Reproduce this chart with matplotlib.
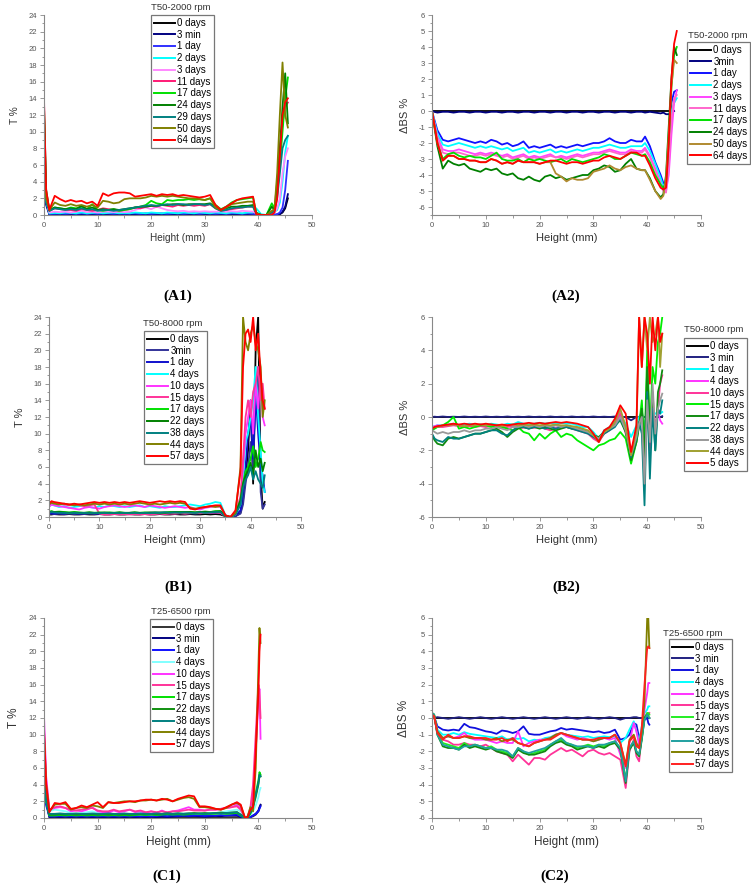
import matplotlib
matplotlib.use("Agg")
import matplotlib.pyplot as plt
import numpy as np

plt.rcParams['font.family'] = ['Liberation Sans', 'DejaVu Sans']
plt.rcParams['axes.unicode_minus'] = False

# ---------------- A1 : T %, T50-2000 rpm ----------------
a1_height = [0, 0.4, 1, 2, 3, 4, 5, 6, 7, 8,
             9, 10, 11, 12, 13, 14, 15, 16, 17, 18,
             19, 20, 21, 22, 23, 24, 25, 26, 27, 28,
             29, 30, 31, 32, 33, 34, 35, 36, 37, 38,
             39, 39.6, 40.5, 41.5, 42.5, 43, 43.5, 44, 44.5, 45,
             45.5]
a1_0d = [6.0, 1.5, 0.1, 0.1, 0.05, 0.1, 0.05, 0.1, 0.1, 0.05,
         0.1, 0.1, 0.05, 0.1, 0.1, 0.05, 0.1, 0.1, 0.05, 0.1,
         0.1, 0.05, 0.1, 0.1, 0.05, 0.1, 0.1, 0.05, 0.1, 0.1,
         0.05, 0.1, 0.1, 0.05, 0.1, 0.1, 0.05, 0.1, 0.1, 0.05,
         0.1, 0.05, 0.0, 0.0, 0.0, 0.0, 0.05, 0.1, 0.3, 0.8,
         2.0]
a1_3min = [5.5, 1.2, 0.05, 0.05, 0.1, 0.05, 0.05, 0.1, 0.05, 0.05,
           0.1, 0.05, 0.05, 0.1, 0.05, 0.05, 0.1, 0.05, 0.05, 0.1,
           0.05, 0.05, 0.1, 0.05, 0.05, 0.1, 0.05, 0.05, 0.1, 0.05,
           0.05, 0.1, 0.05, 0.05, 0.1, 0.05, 0.05, 0.1, 0.05, 0.05,
           0.1, 0.05, 0.0, 0.0, 0.0, 0.0, 0.05, 0.1, 0.4, 1.0,
           2.5]
a1_1d = [6.0, 1.5, 0.15, 0.15, 0.2, 0.15, 0.2, 0.15, 0.2, 0.15,
         0.2, 0.15, 0.2, 0.2, 0.15, 0.2, 0.15, 0.2, 0.2, 0.15,
         0.2, 0.15, 0.2, 0.2, 0.15, 0.2, 0.2, 0.15, 0.2, 0.2,
         0.15, 0.2, 0.2, 0.15, 0.2, 0.15, 0.2, 0.2, 0.15, 0.2,
         0.15, 0.1, 0.0, 0.0, 0.0, 0.05, 0.1, 0.3, 0.9, 3.0,
         6.5]
a1_2d = [6.0, 1.8, 0.2, 0.25, 0.2, 0.3, 0.25, 0.2, 0.3, 0.2,
         0.25, 0.3, 0.2, 0.25, 0.3, 0.2, 0.25, 0.2, 0.3, 0.25,
         0.2, 0.3, 0.25, 0.2, 0.3, 0.25, 0.2, 0.3, 0.25, 0.2,
         0.3, 0.25, 0.2, 0.3, 0.25, 0.2, 0.3, 0.25, 0.2, 0.3,
         0.3, 0.8, 0.1, 0.0, 0.2, 0.4, 0.6, 1.5, 4.0, 7.5,
         9.5]
a1_3d = [6.5, 2.0, 0.3, 0.4, 0.35, 0.4, 0.3, 0.4, 0.5, 0.35,
         0.4, 0.3, 0.4, 0.4, 0.35, 0.4, 0.35, 0.4, 0.6, 0.8,
         0.9, 0.7, 1.0, 0.8, 0.6, 0.5, 0.45, 0.5, 0.4, 0.45,
         0.4, 0.45, 0.4, 0.4, 0.45, 0.4, 0.45, 0.4, 0.5, 0.45,
         0.4, 0.2, 0.0, 0.0, 0.1, 0.3, 0.8, 2.0, 5.0, 7.0,
         8.0]
a1_11d = [14.0, 3.0, 0.5, 0.8, 0.7, 0.6, 0.6, 0.5, 0.7, 0.6,
          0.5, 0.6, 0.8, 0.7, 0.6, 0.5, 0.6, 0.7, 0.9, 0.8,
          1.0, 1.1, 1.0, 1.2, 1.1, 1.0, 1.2, 1.1, 1.2, 1.1,
          1.2, 1.1, 1.3, 0.8, 0.5, 0.6, 0.7, 0.8, 0.9, 1.0,
          1.0, 0.2, 0.0, 0.0, 0.2, 0.8, 4.0, 8.0, 11.0, 13.0,
          13.5]
a1_17d = [13.0, 3.0, 0.5, 0.9, 0.8, 0.7, 0.9, 0.8, 1.0, 0.7,
          1.3, 0.6, 0.5, 0.6, 0.7, 0.5, 0.6, 0.7, 0.9, 1.0,
          1.2, 1.7, 1.4, 1.3, 1.8, 1.7, 1.8, 1.8, 1.9, 1.8,
          1.9, 1.8, 2.0, 1.2, 0.7, 1.0, 1.5, 1.8, 1.9, 2.0,
          2.1, 0.3, 0.0, 0.0, 1.4, 0.8, 2.5, 6.0, 10.0, 14.0,
          16.5]
a1_24d = [12.0, 2.5, 0.6, 0.9, 0.8, 0.7, 0.8, 0.7, 1.1, 0.7,
          0.9, 0.6, 0.7, 0.6, 0.7, 0.6, 0.7, 0.8, 0.9, 1.0,
          1.0, 1.1, 1.1, 1.2, 1.2, 1.3, 1.3, 1.2, 1.3, 1.3,
          1.3, 1.3, 1.4, 0.9, 0.6, 0.8, 1.0, 1.0, 1.1, 1.1,
          1.2, 0.2, 0.0, 0.0, 1.0, 0.6, 3.0, 8.0, 13.0, 17.0,
          11.0]
a1_29d = [6.0, 1.5, 0.5, 0.8, 0.7, 0.6, 0.7, 0.6, 0.8, 0.6,
          0.7, 0.5, 0.6, 0.6, 0.5, 0.6, 0.7, 0.8, 0.9, 1.0,
          1.1, 1.2, 1.1, 1.2, 1.3, 1.2, 1.3, 1.3, 1.2, 1.3,
          1.3, 1.2, 1.3, 0.8, 0.5, 0.6, 0.8, 0.9, 0.9, 1.0,
          1.0, 0.2, 0.0, 0.0, 0.3, 0.5, 2.0, 5.0, 8.0, 9.0,
          9.5]
a1_50d = [6.0, 2.0, 0.6, 1.5, 1.2, 1.1, 1.3, 1.1, 1.2, 1.0,
          1.2, 0.9, 1.7, 1.6, 1.4, 1.5, 1.9, 2.0, 2.0, 2.0,
          2.1, 2.3, 2.2, 2.3, 2.2, 2.3, 2.2, 2.1, 2.0, 2.0,
          1.9, 1.8, 2.0, 0.9, 0.6, 0.9, 1.3, 1.4, 1.5, 1.6,
          1.6, 0.2, 0.0, 0.0, 0.5, 0.7, 5.0, 12.0, 18.3, 12.0,
          10.5]
a1_64d = [13.5, 3.0, 0.6, 2.3, 1.9, 1.6, 1.8, 1.6, 1.7, 1.4,
          1.6, 1.1, 2.6, 2.3, 2.6, 2.7, 2.7, 2.6, 2.2, 2.3,
          2.4, 2.5, 2.3, 2.5, 2.4, 2.5, 2.3, 2.4, 2.3, 2.2,
          2.1, 2.2, 2.4, 1.2, 0.6, 1.0, 1.4, 1.8, 2.0, 2.1,
          2.2, 0.1, 0.0, 0.0, 0.0, 0.3, 2.0, 7.0, 12.0, 13.5,
          14.0]
a1_labels = ["0 days", "3 min", "1 day", "2 days", "3 days", "11 days",
             "17 days", "24 days", "29 days", "50 days", "64 days"]
a1_series = [a1_0d, a1_3min, a1_1d, a1_2d, a1_3d, a1_11d,
             a1_17d, a1_24d, a1_29d, a1_50d, a1_64d]

# ---------------- A2 : dBS %, T50-2000 rpm ----------------
a2_0d = [0.0, 0.0, 0.0, 0.0, 0.0, 0.0, 0.0, 0.0, 0.0, 0.0,
         0.0, 0.0, 0.0, 0.0, 0.0, 0.0, 0.0, 0.0, 0.0, 0.0,
         0.0, 0.0, 0.0, 0.0, 0.0, 0.0, 0.0, 0.0, 0.0, 0.0,
         0.0, 0.0, 0.0, 0.0, 0.0, 0.0, 0.0, 0.0, 0.0, 0.0,
         0.0, 0.0, 0.0, 0.0, 0.0, 0.0, 0.0, 0.0, 0.0, 0.0,
         np.nan]
a2_3min = [0.0, -0.05, -0.1, -0.05, -0.05, -0.1, -0.05, -0.05, -0.1, -0.05,
           -0.05, -0.1, -0.05, -0.05, -0.1, -0.05, -0.05, -0.1, -0.05, -0.05,
           -0.1, -0.05, -0.05, -0.1, -0.05, -0.05, -0.1, -0.05, -0.05, -0.1,
           -0.05, -0.05, -0.1, -0.05, -0.05, -0.1, -0.05, -0.05, -0.1, -0.05,
           -0.05, -0.1, -0.05, -0.1, -0.15, -0.1, -0.2, -0.2, -0.1, 0.0,
           np.nan]
a2_1d = [0.0, -0.5, -1.2, -1.8, -1.9, -1.8, -1.7, -1.8, -1.9, -2.0,
         -1.9, -2.0, -1.8, -1.9, -2.1, -2.0, -2.2, -2.1, -1.9, -2.3,
         -2.2, -2.3, -2.2, -2.1, -2.3, -2.2, -2.3, -2.2, -2.1, -2.2,
         -2.1, -2.0, -2.0, -1.9, -1.7, -1.9, -2.0, -2.0, -1.8, -1.9,
         -1.9, -1.6, -2.2, -3.2, -4.0, -4.5, -4.6, -2.5, 0.5, 1.2,
         1.3]
a2_2d = [0.0, -0.6, -1.4, -2.1, -2.2, -2.1, -2.0, -2.1, -2.2, -2.3,
         -2.2, -2.3, -2.2, -2.3, -2.4, -2.3, -2.5, -2.4, -2.3, -2.6,
         -2.5, -2.6, -2.5, -2.4, -2.6, -2.5, -2.6, -2.5, -2.4, -2.5,
         -2.4, -2.3, -2.3, -2.2, -2.1, -2.2, -2.3, -2.3, -2.2, -2.2,
         -2.2, -2.0, -2.5, -3.3, -4.2, -4.7, -4.8, -2.8, 0.0, 0.5,
         0.8]
a2_3d = [0.0, -0.7, -1.6, -2.4, -2.5, -2.5, -2.4, -2.5, -2.6, -2.7,
         -2.6, -2.7, -2.6, -2.7, -2.8, -2.7, -2.9, -2.8, -2.7, -2.9,
         -2.8, -2.9, -2.8, -2.7, -2.9, -2.8, -2.9, -2.8, -2.7, -2.8,
         -2.7, -2.6, -2.6, -2.5, -2.4, -2.5, -2.6, -2.6, -2.4, -2.5,
         -2.5, -2.3, -2.8, -3.6, -4.5, -4.9, -5.0, -4.0, -1.5, 0.5,
         1.3]
a2_11d = [0.0, -0.7, -1.7, -2.6, -2.7, -2.6, -2.6, -2.7, -2.8, -2.8,
          -2.7, -2.8, -2.7, -2.8, -2.9, -2.8, -3.0, -2.9, -2.8, -3.0,
          -2.9, -3.0, -2.9, -2.8, -2.9, -2.9, -3.0, -2.9, -2.8, -2.9,
          -2.8, -2.7, -2.7, -2.6, -2.5, -2.6, -2.7, -2.7, -2.5, -2.6,
          -2.6, -2.4, -2.9, -3.7, -4.6, -5.0, -5.1, -3.5, -0.5, 0.8,
          1.0]
a2_17d = [0.0, -0.8, -2.0, -3.0, -2.7, -2.6, -2.8, -2.9, -2.8, -2.9,
          -2.9, -3.0, -2.8, -2.6, -3.0, -3.1, -3.1, -3.0, -3.2, -3.0,
          -3.1, -3.0, -3.1, -3.2, -3.1, -3.0, -3.2, -3.0, -3.1, -3.2,
          -3.1, -3.0, -2.9, -2.7, -2.8, -3.0, -3.0, -2.8, -2.6, -2.7,
          -2.8, -2.7, -3.2, -4.0, -4.6, -4.8, -4.6, -2.0, 1.5, 3.5,
          4.0]
a2_24d = [0.0, -0.9, -2.2, -3.6, -3.1, -3.3, -3.4, -3.3, -3.6, -3.7,
          -3.8, -3.6, -3.7, -3.6, -3.9, -4.0, -3.9, -4.2, -4.3, -4.1,
          -4.3, -4.4, -4.1, -4.0, -4.2, -4.1, -4.3, -4.2, -4.1, -4.0,
          -4.0, -3.7, -3.6, -3.4, -3.5, -3.8, -3.7, -3.3, -3.0, -3.6,
          -3.7, -3.7, -4.2, -5.0, -5.4, -5.2, -4.0, -1.0, 2.0, 4.0,
          3.5]
a2_50d = [0.0, -0.8, -2.0, -3.1, -2.8, -2.8, -3.0, -3.0, -3.1, -3.1,
          -3.2, -3.2, -3.0, -3.1, -3.3, -3.2, -3.3, -3.1, -3.2, -3.2,
          -3.2, -3.3, -3.2, -3.2, -3.9, -4.1, -4.4, -4.2, -4.3, -4.3,
          -4.2, -3.8, -3.7, -3.6, -3.4, -3.6, -3.7, -3.5, -3.4, -3.6,
          -3.7, -3.7, -4.3, -5.0, -5.5, -5.3, -4.2, -1.5, 1.5, 3.2,
          3.0]
a2_64d = [0.0, -0.8, -2.0, -3.1, -2.8, -2.8, -3.0, -3.0, -3.1, -3.1,
          -3.2, -3.2, -3.0, -3.1, -3.3, -3.2, -3.3, -3.1, -3.2, -3.2,
          -3.2, -3.3, -3.2, -3.1, -3.1, -3.2, -3.3, -3.2, -3.2, -3.3,
          -3.2, -3.1, -3.1, -2.9, -2.8, -2.9, -3.0, -2.8, -2.6, -2.6,
          -2.8, -2.8, -3.4, -4.2, -4.8, -4.9, -4.8, -2.0, 2.0, 4.2,
          5.0]
a2_labels = ["0 days", "3min", "1 day", "2 days", "3 days", "11 days",
             "17 days", "24 days", "50 days", "64 days"]
a2_series = [a2_0d, a2_3min, a2_1d, a2_2d, a2_3d, a2_11d,
             a2_17d, a2_24d, a2_50d, a2_64d]

# ---------------- B1 : T %, T50-8000 rpm ----------------
b1_height = [0, 0.5, 1, 2, 3, 4, 5, 6, 7, 8,
             9, 10, 11, 12, 13, 14, 15, 16, 17, 18,
             19, 20, 21, 22, 23, 24, 25, 26, 27, 28,
             29, 30, 31, 32, 33, 34, 35, 36, 37, 38,
             38.5, 39, 39.5, 40, 40.5, 41, 41.5, 42, 42.4, 42.8]
b1_0d = [0.3, 0.3, 0.35, 0.3, 0.3, 0.35, 0.3, 0.3, 0.35, 0.3,
         0.3, 0.35, 0.3, 0.3, 0.35, 0.3, 0.3, 0.35, 0.3, 0.3,
         0.35, 0.3, 0.3, 0.35, 0.3, 0.3, 0.35, 0.3, 0.3, 0.35,
         0.3, 0.3, 0.35, 0.3, 0.35, 0.3, 0.1, 0.0, 0.1, 0.5,
         2.0, 5.0, 8.0, 14.0, 4.0, 20.0, 24.0, 5.0, 1.0, 1.8]
b1_3min = [0.35, 0.4, 0.35, 0.4, 0.35, 0.4, 0.35, 0.4, 0.35, 0.4,
           0.35, 0.4, 0.35, 0.4, 0.35, 0.4, 0.35, 0.4, 0.35, 0.4,
           0.35, 0.4, 0.4, 0.45, 0.4, 0.45, 0.4, 0.45, 0.4, 0.45,
           0.4, 0.45, 0.5, 0.45, 0.5, 0.5, 0.1, 0.0, 0.1, 0.4,
           1.5, 4.0, 6.0, 9.0, 6.0, 14.0, 18.0, 3.0, 1.0, 1.5]
b1_1d = [0.4, 0.45, 0.4, 0.45, 0.4, 0.5, 0.45, 0.4, 0.45, 0.5,
         0.45, 0.4, 0.45, 0.5, 0.45, 0.5, 0.45, 0.5, 0.5, 0.45,
         0.5, 0.5, 0.55, 0.5, 0.55, 0.5, 0.55, 0.6, 0.55, 0.5,
         0.5, 0.55, 0.6, 0.55, 0.6, 0.6, 0.1, 0.0, 0.2, 0.8,
         3.0, 6.0, 10.0, 12.0, 7.0, 15.0, 10.0, 6.0, 5.0, 3.0]
b1_4d = [1.3, 1.5, 1.4, 1.2, 1.3, 1.1, 1.2, 1.3, 1.4, 1.2,
         1.1, 1.3, 1.2, 1.4, 1.3, 1.2, 1.3, 1.2, 1.3, 1.4,
         1.2, 1.3, 1.2, 1.1, 1.3, 1.2, 1.2, 1.3, 1.4, 1.5,
         1.4, 1.3, 1.5, 1.6, 1.8, 1.7, 0.2, 0.0, 0.3, 1.5,
         5.0, 9.0, 10.0, 12.0, 14.0, 18.0, 12.0, 8.0, 4.0, 3.0]
b1_10d = [1.2, 1.5, 1.4, 1.3, 1.2, 1.1, 1.0, 0.9, 1.1, 1.2,
          1.1, 1.0, 1.2, 1.3, 1.4, 1.3, 1.2, 1.3, 1.4, 1.3,
          1.2, 1.4, 1.3, 1.2, 1.1, 1.2, 1.3, 1.2, 1.1, 1.2,
          1.0, 0.9, 1.1, 1.2, 1.3, 1.2, 0.2, 0.0, 0.4, 2.0,
          6.0, 10.0, 12.0, 14.0, 10.0, 16.0, 13.0, 17.0, 12.0, 11.0]
b1_15d = [1.6, 1.8, 1.7, 1.6, 1.5, 1.4, 1.5, 1.4, 1.3, 1.4,
          1.5, 0.4, 0.3, 0.3, 0.35, 0.3, 0.35, 0.3, 0.35, 0.3,
          0.35, 0.3, 0.35, 0.4, 0.35, 0.4, 0.4, 0.45, 0.4, 0.45,
          0.5, 0.45, 0.5, 0.5, 0.55, 0.5, 0.1, 0.0, 0.3, 2.5,
          7.0, 12.0, 14.0, 12.0, 15.0, 16.0, 18.0, 14.0, 16.0, 13.0]
b1_17d = [0.6, 0.7, 0.6, 0.65, 0.6, 0.55, 0.6, 0.55, 0.5, 0.55,
          0.5, 0.55, 0.5, 0.55, 0.5, 0.55, 0.5, 0.5, 0.55, 0.5,
          0.55, 0.5, 0.55, 0.5, 0.55, 0.6, 0.55, 0.6, 0.55, 0.6,
          0.55, 0.6, 0.55, 0.6, 0.7, 0.7, 0.1, 0.0, 0.4, 2.0,
          4.0, 5.5, 6.0, 7.0, 8.5, 6.0, 7.0, 9.0, 8.0, 7.8]
b1_22d = [0.6, 0.65, 0.6, 0.6, 0.55, 0.5, 0.55, 0.5, 0.5, 0.55,
          0.5, 0.5, 0.55, 0.5, 0.5, 0.55, 0.5, 0.5, 0.55, 0.5,
          0.5, 0.55, 0.5, 0.55, 0.5, 0.55, 0.6, 0.55, 0.6, 0.6,
          0.55, 0.6, 0.65, 0.6, 0.65, 0.7, 0.1, 0.0, 0.4, 2.0,
          4.0, 5.0, 5.5, 6.5, 5.0, 8.0, 6.0, 7.0, 5.5, 6.5]
b1_38d = [0.5, 0.6, 0.55, 0.5, 0.5, 0.45, 0.5, 0.45, 0.5, 0.45,
          0.5, 0.45, 0.5, 0.45, 0.5, 0.45, 0.5, 0.45, 0.5, 0.45,
          0.5, 0.45, 0.5, 0.5, 0.55, 0.5, 0.55, 0.5, 0.55, 0.5,
          0.5, 0.55, 0.5, 0.55, 0.6, 0.6, 0.1, 0.0, 0.3, 1.5,
          3.5, 4.5, 5.0, 6.0, 4.5, 5.5, 4.5, 4.0, 3.5, 5.0]
b1_44d = [1.5, 1.7, 1.6, 1.5, 1.6, 1.5, 1.4, 1.5, 1.4, 1.5,
          1.6, 1.5, 1.6, 1.5, 1.6, 1.5, 1.6, 1.5, 1.6, 1.7,
          1.6, 1.5, 1.6, 1.5, 1.6, 1.7, 1.6, 1.7, 1.6, 1.1,
          1.0, 1.1, 1.2, 1.3, 1.2, 1.3, 0.2, 0.0, 0.5, 6.0,
          24.0, 21.0, 20.0, 22.0, 23.0, 21.0, 20.0, 18.0, 12.0, 14.0]
b1_57d = [1.6, 1.9, 1.8, 1.7, 1.6, 1.5, 1.6, 1.5, 1.6, 1.7,
          1.8, 1.7, 1.8, 1.7, 1.8, 1.7, 1.8, 1.7, 1.8, 1.9,
          1.8, 1.7, 1.8, 1.9, 1.8, 1.9, 1.8, 1.9, 1.8, 1.0,
          0.9, 1.1, 1.2, 1.3, 1.4, 1.4, 0.2, 0.0, 0.8, 5.5,
          18.0, 22.0, 22.5, 21.0, 24.0, 20.0, 22.0, 17.0, 14.0, 13.0]
b1_labels = ["0 days", "3min", "1 day", "4 days", "10 days", "15 days",
             "17 days", "22 days", "38 days", "44 days", "57 days"]
b1_series = [b1_0d, b1_3min, b1_1d, b1_4d, b1_10d, b1_15d,
             b1_17d, b1_22d, b1_38d, b1_44d, b1_57d]

# ---------------- B2 : dBS %, T50-8000 rpm ----------------
b2_0d = [0.0, 0.0, 0.0, 0.0, 0.0, 0.0, 0.0, 0.0, 0.0, 0.0,
         0.0, 0.0, 0.0, 0.0, 0.0, 0.0, 0.0, 0.0, 0.0, 0.0,
         0.0, 0.0, 0.0, 0.0, 0.0, 0.0, 0.0, 0.0, 0.0, 0.0,
         0.0, 0.0, 0.0, 0.0, 0.0, 0.0, 0.0, 0.0, 0.0, 0.0,
         0.0, 0.0, 0.0, 0.0, 0.0, 0.0, 0.0, 0.0, 0.0, 0.0]
b2_3min = [0.0, 0.02, 0.0, 0.03, 0.0, 0.02, 0.0, 0.03, 0.0, 0.02,
           0.0, 0.03, 0.0, 0.02, 0.0, 0.03, 0.0, 0.02, 0.0, 0.03,
           0.0, 0.02, 0.0, 0.03, 0.0, 0.02, 0.0, 0.03, 0.0, 0.02,
           0.0, 0.03, 0.0, 0.02, 0.0, 0.03, 0.0, 0.0, -0.2, 0.0,
           0.0, 0.05, 0.0, 0.05, 0.0, 0.05, 0.0, 0.05, 0.0, 0.05]
b2_1d = [-0.6, -0.55, -0.5, -0.5, -0.45, -0.4, -0.5, -0.45, -0.4, -0.5,
         -0.45, -0.5, -0.4, -0.45, -0.5, -0.4, -0.45, -0.3, -0.4, -0.45,
         -0.4, -0.35, -0.4, -0.35, -0.4, -0.35, -0.4, -0.4, -0.5, -0.6,
         -0.6, -0.9, -1.3, -0.8, -0.6, -0.3, 0.1, -0.4, -1.2, -0.5,
         0.0, 0.3, -0.5, 0.2, 0.5, 0.1, 0.2, 0.3, 0.2, 0.3]
b2_4d = [-0.6, -0.55, -0.5, -0.55, -0.5, -0.45, -0.5, -0.55, -0.5, -0.55,
         -0.5, -0.55, -0.5, -0.6, -0.55, -0.5, -0.6, -0.5, -0.55, -0.6,
         -0.55, -0.6, -0.55, -0.6, -0.65, -0.6, -0.55, -0.6, -0.65, -0.8,
         -0.9, -1.2, -1.4, -0.9, -0.7, -0.4, 0.3, -0.8, -2.0, -1.0,
         -0.4, 0.5, -2.0, 1.8, -1.0, 0.5, -0.5, 0.3, -0.2, -0.4]
b2_10d = [-0.7, -0.65, -0.6, -0.6, -0.55, -0.5, -0.55, -0.6, -0.55, -0.6,
          -0.55, -0.6, -0.55, -0.6, -0.65, -0.6, -0.55, -0.6, -0.65, -0.6,
          -0.65, -0.6, -0.7, -0.8, -0.7, -0.65, -0.6, -0.7, -0.8, -0.9,
          -1.0, -1.3, -1.5, -1.0, -0.8, -0.5, 0.2, -1.0, -2.2, -1.2,
          -0.5, 0.5, -1.5, 1.0, -2.0, 1.5, -1.0, 0.5, 2.0, 2.5]
b2_15d = [-0.8, -0.7, -0.6, -0.5, -0.3, 0.0, -0.7, -0.6, -0.7, -0.6,
          -0.5, -0.5, -0.6, -0.5, -0.6, -0.7, -0.8, -0.6, -0.9, -1.0,
          -1.4, -1.0, -1.3, -1.0, -0.8, -1.2, -1.0, -1.1, -1.4, -1.6,
          -1.8, -2.0, -1.7, -1.6, -1.4, -1.3, -0.9, -1.3, -2.8, -1.5,
          -0.5, 1.0, -2.0, 4.0, -1.0, 3.0, 2.0, 4.5, 5.0, 6.0]
b2_17d = [-1.1, -1.4, -1.6, -1.7, -1.3, -1.2, -1.3, -1.2, -1.1, -1.0,
          -1.0, -0.9, -0.8, -0.7, -0.9, -1.2, -0.9, -0.7, -0.6, -0.7,
          -0.6, -0.7, -0.6, -0.7, -0.8, -0.7, -0.6, -0.7, -0.7, -0.8,
          -0.9, -1.1, -1.2, -0.9, -0.7, -0.5, -0.2, -0.9, -2.6, -1.5,
          -0.5, 0.5, -2.5, 3.0, -1.0, 1.0, -2.0, 1.5, 2.0, 2.8]
b2_22d = [-1.0, -1.3, -1.4, -1.5, -1.2, -1.3, -1.3, -1.2, -1.1, -1.0,
          -1.0, -0.9, -0.8, -0.8, -1.0, -1.1, -0.8, -0.6, -0.6, -0.7,
          -0.6, -0.6, -0.7, -0.6, -0.7, -0.6, -0.6, -0.7, -0.8, -0.9,
          -1.0, -1.2, -1.4, -1.0, -0.8, -0.6, -0.1, -0.8, -2.4, -1.3,
          -0.3, -1.0, -5.3, 1.5, -3.7, 0.5, -2.0, 0.5, 0.2, 1.0]
b2_38d = [-0.8, -0.9, -1.0, -0.9, -1.0, -0.9, -0.9, -0.8, -0.9, -0.8,
          -0.8, -0.7, -0.7, -0.6, -0.7, -0.8, -0.6, -0.6, -0.5, -0.6,
          -0.5, -0.6, -0.5, -0.6, -0.5, -0.6, -0.5, -0.6, -0.7, -0.8,
          -0.9, -1.1, -1.3, -0.9, -0.7, -0.5, 0.0, -0.8, -2.3, -1.2,
          -0.4, 0.0, -4.0, 1.0, -1.5, 2.0, -1.0, 0.5, 1.0, 1.4]
b2_44d = [-0.7, -0.6, -0.6, -0.5, -0.5, -0.45, -0.5, -0.55, -0.5, -0.5,
          -0.45, -0.5, -0.45, -0.5, -0.55, -0.5, -0.45, -0.5, -0.45, -0.5,
          -0.45, -0.5, -0.45, -0.5, -0.45, -0.5, -0.5, -0.55, -0.6, -0.7,
          -0.8, -1.1, -1.5, -0.9, -0.7, -0.3, 0.5, -0.6, -2.3, -0.8,
          6.0, 3.0, 6.0, 4.0, 6.0, 4.5, 5.0, 6.0, 3.0, 5.0]
b2_5d = [-0.7, -0.6, -0.55, -0.5, -0.45, -0.4, -0.45, -0.4, -0.45, -0.4,
         -0.45, -0.4, -0.45, -0.5, -0.45, -0.5, -0.45, -0.4, -0.4, -0.35,
         -0.4, -0.35, -0.4, -0.35, -0.3, -0.35, -0.3, -0.35, -0.4, -0.5,
         -0.6, -1.0, -1.5, -0.8, -0.6, -0.1, 0.7, 0.2, -2.1, -0.5,
         6.0, 3.0, 6.0, 5.0, 2.0, 6.0, 4.0, 6.0, 4.5, 5.0]
b2_labels = ["0 days", "3 min", "1 day", "4 days", "10 days", "15 days",
             "17 days", "22 days", "38 days", "44 days", "5 days"]
b2_series = [b2_0d, b2_3min, b2_1d, b2_4d, b2_10d, b2_15d,
             b2_17d, b2_22d, b2_38d, b2_44d, b2_5d]

# ---------------- C1 : T %, T25-6500 rpm ----------------
c1_height = [0, 0.4, 1, 2, 3, 4, 5, 6, 7, 8,
             9, 10, 11, 12, 13, 14, 15, 16, 17, 18,
             19, 20, 21, 22, 23, 24, 25, 26, 27, 28,
             29, 30, 31, 32, 33, 34, 35, 36, 36.7, 37.5,
             38, 38.5, 39, 39.5, 40, 40.2, 40.4]
c1_0d = [4.5, 2.0, 0.1, 0.1, 0.05, 0.1, 0.05, 0.1, 0.05, 0.1,
         0.05, 0.1, 0.05, 0.1, 0.05, 0.1, 0.05, 0.1, 0.05, 0.1,
         0.05, 0.1, 0.05, 0.1, 0.05, 0.1, 0.05, 0.1, 0.05, 0.1,
         0.05, 0.1, 0.05, 0.1, 0.05, 0.1, 0.1, 0.1, 0.05, 0.0,
         0.0, 0.1, 0.2, 0.4, 0.8, 1.2, 1.5]
c1_3min = [4.3, 2.0, 0.1, 0.15, 0.1, 0.15, 0.1, 0.15, 0.1, 0.15,
           0.1, 0.15, 0.1, 0.15, 0.1, 0.15, 0.1, 0.15, 0.1, 0.15,
           0.1, 0.15, 0.1, 0.15, 0.1, 0.15, 0.2, 0.25, 0.2, 0.25,
           0.2, 0.15, 0.2, 0.25, 0.2, 0.3, 0.3, 0.3, 0.1, 0.0,
           0.0, 0.1, 0.3, 0.5, 0.9, 1.3, 1.6]
c1_1d = [3.5, 1.5, 0.2, 0.2, 0.25, 0.2, 0.25, 0.2, 0.25, 0.2,
         0.25, 0.2, 0.25, 0.2, 0.25, 0.2, 0.25, 0.2, 0.25, 0.2,
         0.25, 0.2, 0.25, 0.3, 0.25, 0.3, 0.25, 0.3, 0.25, 0.3,
         0.3, 0.25, 0.3, 0.3, 0.35, 0.3, 0.35, 0.4, 0.2, 0.0,
         0.0, 0.1, 0.3, 0.5, 0.8, 1.1, 1.4]
c1_4d = [4.0, 2.0, 0.8, 1.0, 0.9, 0.8, 0.6, 0.5, 0.6, 0.7,
         0.8, 0.6, 0.5, 0.45, 0.5, 0.4, 0.45, 0.5, 0.45, 0.5,
         0.45, 0.5, 0.45, 0.5, 0.45, 0.5, 0.5, 0.55, 0.5, 0.55,
         0.5, 0.55, 0.6, 0.6, 0.7, 0.8, 0.9, 1.0, 0.8, 0.0,
         0.1, 0.4, 0.8, 1.5, 2.5, 3.2, 3.6]
c1_10d = [12.3, 5.0, 1.0, 1.2, 1.3, 1.2, 0.8, 0.9, 0.8, 1.0,
          1.3, 0.8, 0.7, 0.6, 0.9, 0.7, 0.8, 1.0, 0.7, 0.8,
          0.6, 0.8, 0.6, 0.9, 0.6, 0.8, 0.9, 1.1, 1.3, 1.0,
          1.0, 0.9, 1.0, 1.0, 1.1, 1.2, 1.3, 1.6, 1.2, 0.0,
          0.2, 1.0, 3.0, 8.0, 14.0, 15.5, 9.5]
c1_15d = [11.0, 4.5, 1.0, 1.3, 1.4, 1.2, 1.0, 0.9, 1.0, 1.1,
          1.2, 0.9, 0.8, 0.8, 1.0, 0.8, 0.9, 1.0, 0.8, 0.9,
          0.7, 0.8, 0.7, 0.8, 0.7, 0.8, 0.8, 0.9, 1.0, 0.9,
          0.9, 0.9, 1.0, 1.0, 1.1, 1.2, 1.3, 1.4, 1.0, 0.0,
          0.2, 1.2, 4.0, 10.0, 16.0, 15.0, 12.0]
c1_17d = [4.0, 2.0, 0.3, 0.3, 0.35, 0.3, 0.35, 0.3, 0.35, 0.3,
          0.35, 0.3, 0.35, 0.3, 0.35, 0.3, 0.35, 0.3, 0.35, 0.4,
          0.35, 0.4, 0.35, 0.4, 0.45, 0.4, 0.45, 0.4, 0.45, 0.5,
          0.5, 0.45, 0.5, 0.5, 0.55, 0.5, 0.55, 0.6, 0.3, 0.0,
          0.0, 0.5, 1.5, 3.0, 4.5, 5.5, 5.2]
c1_22d = [4.5, 2.2, 0.4, 0.4, 0.45, 0.4, 0.45, 0.4, 0.45, 0.4,
          0.45, 0.4, 0.45, 0.4, 0.45, 0.4, 0.45, 0.4, 0.45, 0.5,
          0.45, 0.5, 0.45, 0.5, 0.55, 0.5, 0.55, 0.5, 0.55, 0.6,
          0.55, 0.6, 0.55, 0.6, 0.65, 0.6, 0.65, 0.7, 0.4, 0.0,
          0.1, 0.6, 1.3, 2.5, 4.0, 5.0, 5.0]
c1_38d = [4.3, 2.1, 0.5, 0.5, 0.55, 0.5, 0.5, 0.55, 0.5, 0.5,
          0.55, 0.5, 0.5, 0.55, 0.5, 0.5, 0.55, 0.5, 0.5, 0.55,
          0.5, 0.5, 0.55, 0.5, 0.55, 0.5, 0.55, 0.5, 0.55, 0.5,
          0.55, 0.5, 0.55, 0.6, 0.55, 0.6, 0.65, 0.7, 0.4, 0.0,
          0.1, 0.7, 1.4, 2.8, 4.2, 5.2, 5.0]
c1_44d = [10.0, 4.0, 0.8, 1.6, 1.7, 1.7, 1.0, 1.2, 1.3, 1.2,
          1.5, 1.4, 1.2, 1.9, 1.8, 1.9, 2.0, 2.0, 1.9, 2.1,
          2.1, 2.2, 2.1, 2.2, 2.3, 2.0, 2.2, 2.4, 2.5, 2.3,
          1.3, 1.3, 1.2, 1.1, 1.0, 1.2, 1.6, 1.8, 1.5, 0.0,
          0.2, 1.3, 0.8, 6.0, 18.0, 22.8, 21.0]
c1_57d = [10.5, 4.0, 0.7, 1.8, 1.7, 1.9, 1.1, 1.2, 1.5, 1.3,
          1.6, 1.9, 1.3, 1.9, 1.8, 1.8, 1.9, 2.0, 2.0, 2.1,
          2.2, 2.2, 2.1, 2.3, 2.2, 2.0, 2.3, 2.5, 2.7, 2.6,
          1.4, 1.4, 1.3, 1.1, 1.0, 1.3, 1.6, 1.9, 1.6, 0.0,
          0.1, 1.0, 1.3, 8.0, 15.0, 20.0, 22.0]
c1_labels = ["0 days", "3 min", "1 day", "4 days", "10 days", "15 days",
             "17 days", "22 days", "38 days", "44 days", "57 days"]
c1_series = [c1_0d, c1_3min, c1_1d, c1_4d, c1_10d, c1_15d,
             c1_17d, c1_22d, c1_38d, c1_44d, c1_57d]

# ---------------- C2 : dBS %, T25-6500 rpm ----------------
c2_0d = [0.0, 0.0, 0.0, 0.0, 0.0, 0.0, 0.0, 0.0, 0.0, 0.0,
         0.0, 0.0, 0.0, 0.0, 0.0, 0.0, 0.0, 0.0, 0.0, 0.0,
         0.0, 0.0, 0.0, 0.0, 0.0, 0.0, 0.0, 0.0, 0.0, 0.0,
         0.0, 0.0, 0.0, 0.0, 0.0, 0.0, 0.0, 0.0, 0.0, 0.0,
         0.0, 0.0, 0.0, 0.0, 0.0, 0.0, 0.0]
c2_3min = [0.0, 0.0, 0.05, 0.0, -0.05, 0.0, 0.05, 0.0, -0.05, 0.0,
           0.05, 0.0, -0.05, 0.0, 0.05, 0.0, -0.05, 0.0, 0.05, 0.0,
           -0.05, 0.0, 0.05, 0.0, -0.05, 0.0, 0.05, 0.0, -0.05, 0.0,
           0.05, 0.0, -0.05, 0.0, 0.05, 0.0, -0.1, 0.0, 0.0, 0.05,
           0.05, 0.0, 0.0, 0.0, 0.0, 0.0, 0.0]
c2_1d = [0.2, 0.1, -0.5, -0.7, -0.75, -0.7, -0.75, -0.35, -0.55, -0.6,
         -0.7, -0.8, -0.85, -0.95, -0.75, -0.8, -0.9, -0.8, -0.5, -0.95,
         -1.0, -1.0, -0.9, -0.8, -0.75, -0.6, -0.7, -0.65, -0.7, -0.75,
         -0.8, -0.85, -0.8, -0.9, -0.85, -0.7, -1.3, -1.2, -1.0, -0.3,
         -0.4, -1.2, -0.8, -0.1, 0.0, -0.3, -0.4]
c2_4d = [0.2, 0.1, -0.7, -1.0, -1.0, -0.9, -1.0, -0.85, -0.95, -1.0,
         -1.05, -1.1, -1.15, -1.2, -1.1, -1.3, -1.2, -1.25, -1.2, -1.4,
         -1.3, -1.35, -1.2, -1.15, -1.0, -0.9, -1.0, -1.05, -1.1, -1.15,
         -1.1, -1.2, -1.15, -1.1, -1.15, -1.1, -1.5, -1.2, -0.7, -0.2,
         -0.8, -1.4, -0.5, 0.3, 0.5, 0.7, 0.7]
c2_10d = [0.2, 0.1, -0.8, -1.2, -1.1, -1.2, -1.1, -0.9, -1.2, -1.3,
          -1.3, -1.3, -1.4, -1.5, -1.4, -1.5, -1.5, -0.8, -1.7, -1.5,
          -1.4, -1.3, -1.3, -1.2, -1.0, -0.9, -1.1, -1.2, -1.3, -1.2,
          -1.3, -1.4, -1.3, -1.2, -1.3, -1.2, -2.2, -3.0, -1.5, -0.3,
          -0.8, -1.6, -1.0, 0.5, 1.5, 2.1, 2.1]
c2_15d = [0.2, 0.1, -0.9, -1.3, -1.4, -1.6, -1.6, -1.5, -1.6, -1.6,
          -1.7, -1.6, -1.8, -2.0, -2.1, -2.2, -2.6, -2.2, -2.5, -2.8,
          -2.4, -2.4, -2.5, -2.2, -2.0, -1.8, -2.0, -1.9, -2.1, -2.3,
          -2.0, -1.9, -2.1, -2.2, -2.1, -2.3, -2.5, -4.2, -2.0, -1.3,
          -2.3, -2.6, -1.0, 0.0, 0.3, 0.2, 0.3]
c2_17d = [0.3, 0.2, -0.9, -1.5, -1.6, -1.7, -1.8, -1.5, -1.7, -1.6,
          -1.7, -1.8, -1.7, -1.9, -2.0, -2.1, -2.3, -1.8, -2.0, -2.2,
          -2.1, -2.0, -1.9, -1.6, -1.4, -1.3, -1.5, -1.6, -1.8, -1.7,
          -1.6, -1.7, -1.6, -1.7, -1.5, -1.4, -1.8, -3.7, -1.8, -1.4,
          -2.0, -2.2, -1.2, 0.0, 0.3, 0.3, 0.2]
c2_22d = [0.3, 0.2, -1.0, -1.7, -1.8, -1.8, -1.9, -1.6, -1.8, -1.7,
          -1.8, -1.9, -1.8, -2.0, -2.1, -2.2, -2.4, -1.9, -2.1, -2.2,
          -2.2, -2.1, -2.0, -1.7, -1.5, -1.4, -1.6, -1.7, -1.9, -1.8,
          -1.7, -1.8, -1.7, -1.8, -1.6, -1.5, -1.9, -3.9, -1.9, -1.5,
          -2.1, -2.3, -1.3, 0.0, 0.2, 0.1, 0.0]
c2_38d = [0.3, 0.2, -1.0, -1.6, -1.7, -1.8, -1.9, -1.7, -1.7, -1.6,
          -1.7, -1.8, -1.8, -1.9, -1.9, -2.0, -2.3, -1.8, -2.0, -2.1,
          -2.0, -1.9, -1.8, -1.6, -1.4, -1.2, -1.5, -1.6, -1.7, -1.7,
          -1.7, -1.8, -1.6, -1.6, -1.5, -1.4, -1.8, -3.8, -1.8, -1.4,
          -2.0, -2.2, -1.2, -0.1, 0.2, 0.1, 0.0]
c2_44d = [0.2, 0.1, -0.8, -1.2, -1.1, -1.2, -1.2, -1.1, -1.2, -1.2,
          -1.2, -1.3, -1.3, -1.2, -1.4, -1.3, -1.3, -1.5, -1.6, -1.7,
          -1.5, -1.4, -1.3, -1.2, -1.0, -0.9, -1.0, -1.1, -1.2, -1.3,
          -1.3, -1.4, -1.3, -1.2, -1.2, -1.0, -1.5, -2.8, -1.3, -1.0,
          -1.5, -1.8, -0.8, 1.0, 6.0, 6.0, 4.2]
c2_57d = [0.2, 0.1, -0.9, -1.3, -1.0, -1.2, -1.2, -1.1, -1.1, -1.2,
          -1.2, -1.2, -1.3, -1.3, -1.2, -1.4, -1.2, -1.5, -1.6, -1.7,
          -1.5, -1.4, -1.3, -1.3, -1.1, -0.9, -1.0, -1.1, -1.2, -1.3,
          -1.3, -1.3, -1.2, -1.2, -1.2, -1.0, -1.5, -2.9, -1.4, -1.1,
          -1.7, -1.8, -0.5, 2.0, 4.2, 4.3, 4.2]
c2_labels = ["0 days", "3 min", "1 day", "4 days", "10 days", "15 days",
             "17 days", "22 days", "38 days", "44 days", "57 days"]
c2_series = [c2_0d, c2_3min, c2_1d, c2_4d, c2_10d, c2_15d,
             c2_17d, c2_22d, c2_38d, c2_44d, c2_57d]

# line colours (Origin-like palette)
a1_colors = ["#000000", "#000080", "#3030ff", "#00ffff", "#ff88ff", "#ff1a75",
             "#00e000", "#008000", "#008080", "#808000", "#ff0000"]
a2_colors = ["#000000", "#000080", "#1010ff", "#00ffff", "#ff44ff", "#ff66cc",
             "#00e000", "#008000", "#b08a30", "#ff0000"]
b1_colors = ["#000000", "#333399", "#1010cc", "#00ffff", "#ff33ff", "#ff3399",
             "#00e000", "#008000", "#008080", "#808000", "#ff0000"]
b2_colors = ["#000000", "#202080", "#00ffff", "#ff33ff", "#ff3399", "#00ee00",
             "#108a10", "#008080", "#999999", "#a0a030", "#ff0000"]
c1_colors = ["#333333", "#000080", "#1010ff", "#80ffff", "#ff33ff", "#ff3399",
             "#00e000", "#109010", "#008080", "#808000", "#ff0000"]
c2_colors = ["#000000", "#202080", "#1010dd", "#00ffff", "#ff33ff", "#ff3399",
             "#22ee22", "#108a10", "#20a0a0", "#808000", "#ff2020"]

W, H = 751, 892
fig = plt.figure(figsize=(W / 100, H / 100), dpi=100)


def px_axes(left, right, top, bottom):
    return fig.add_axes([left / W, 1 - bottom / H, (right - left) / W, (bottom - top) / H])


def style_axes(ax, ylim, ymajor, yminor, ylabel, xlabel_size):
    ax.set_xlim(0, 50)
    ax.set_ylim(*ylim)
    ax.set_xticks(np.arange(0, 51, 10))
    ax.set_xticks(np.arange(0, 51, 5), minor=True)
    ax.set_yticks(ymajor)
    ax.set_yticks(yminor, minor=True)
    for s in ("top", "right"):
        ax.spines[s].set_visible(False)
    for s in ("left", "bottom"):
        ax.spines[s].set_color("#888888")
        ax.spines[s].set_linewidth(0.8)
    ax.tick_params(which="both", direction="out", colors="#888888", labelcolor="#555555",
                   labelsize=5.5, width=0.6, pad=2)
    ax.tick_params(which="major", length=3)
    ax.tick_params(which="minor", length=1.8)
    ax.set_xlabel("Height (mm)", fontsize=xlabel_size, color="#333333", labelpad=3)
    ax.set_ylabel(ylabel, fontsize=xlabel_size, color="#333333", labelpad=6)


def add_legend(ax, handles, labels, title, box_left, box_top, title_x, title_y):
    fig.text(title_x / W, 1 - title_y / H, title, fontsize=6.8, color="#333333",
             ha="center", va="center")
    leg = ax.legend(handles, labels, loc="upper left",
                    bbox_to_anchor=(box_left / W, 1 - box_top / H),
                    bbox_transform=fig.transFigure, fontsize=7, frameon=True,
                    fancybox=False, borderpad=0.3, labelspacing=0.18,
                    handlelength=2.2, handletextpad=0.2, borderaxespad=0)
    leg.get_frame().set_edgecolor("#555555")
    leg.get_frame().set_linewidth(0.9)
    for ln in leg.get_lines():
        ln.set_linewidth(1.4)


def draw(ax, heights, series, colors):
    lines = []
    for vals, col in zip(series, colors):
        ln, = ax.plot(heights, vals, color=col, lw=1.3, clip_on=True)
        lines.append(ln)
    return lines


t_major = np.arange(0, 25, 2)
t_minor = np.arange(0, 25, 1)

# A1
ax = px_axes(44, 312, 15, 215)
h = draw(ax, a1_height, a1_series, a1_colors)
style_axes(ax, (0, 24), t_major, t_minor, "T %", 7.2)
add_legend(ax, h, a1_labels, "T50-2000 rpm", 151, 15, 181, 8)

# A2
ax = px_axes(432, 701, 15, 215)
h = draw(ax, a1_height, a2_series, a2_colors)
style_axes(ax, (-6.5, 6), np.arange(-6, 7, 1), np.arange(-6.5, 6.1, 0.5), "\u0394BS %", 8)
add_legend(ax, h, a2_labels, "T50-2000 rpm", 687, 42, 718, 35)

# B1
ax = px_axes(49, 301, 317, 517)
h = draw(ax, b1_height, b1_series, b1_colors)
style_axes(ax, (0, 24), t_major, t_minor, "T %", 8)
add_legend(ax, h, b1_labels, "T50-8000 rpm", 144, 331, 173, 323)

# B2
ax = px_axes(432, 701, 317, 517)
h = draw(ax, b1_height, b2_series, b2_colors)
style_axes(ax, (-6, 6), np.arange(-6, 7, 2), np.arange(-6, 7, 1), "\u0394BS %", 8)
add_legend(ax, h, b2_labels, "T50-8000 rpm", 684, 338, 714, 329)

# C1
ax = px_axes(44, 312, 618, 818)
h = draw(ax, c1_height, c1_series, c1_colors)
style_axes(ax, (0, 24), t_major, t_minor, "T %", 8.5)
add_legend(ax, h, c1_labels, "T25-6500 rpm", 150, 619, 181, 611)

# C2
ax = px_axes(432, 701, 618, 818)
h = draw(ax, c1_height, c2_series, c2_colors)
style_axes(ax, (-6, 6), np.arange(-6, 7, 1), np.arange(-6, 6.1, 0.5), "\u0394BS %", 8.5)
add_legend(ax, h, c2_labels, "T25-6500 rpm", 669, 639, 693, 633)

# panel captions
for txt, x, y in [("(A1)", 178, 296), ("(A2)", 566, 296), ("(B1)", 178, 587),
                  ("(B2)", 566, 587), ("(C1)", 167, 876), ("(C2)", 555, 876)]:
    fig.text(x / W, 1 - y / H, txt, fontsize=11, fontweight="bold",
             family=["Liberation Serif", "DejaVu Serif"], ha="center", va="center")

fig.savefig("out.png", dpi=100)
